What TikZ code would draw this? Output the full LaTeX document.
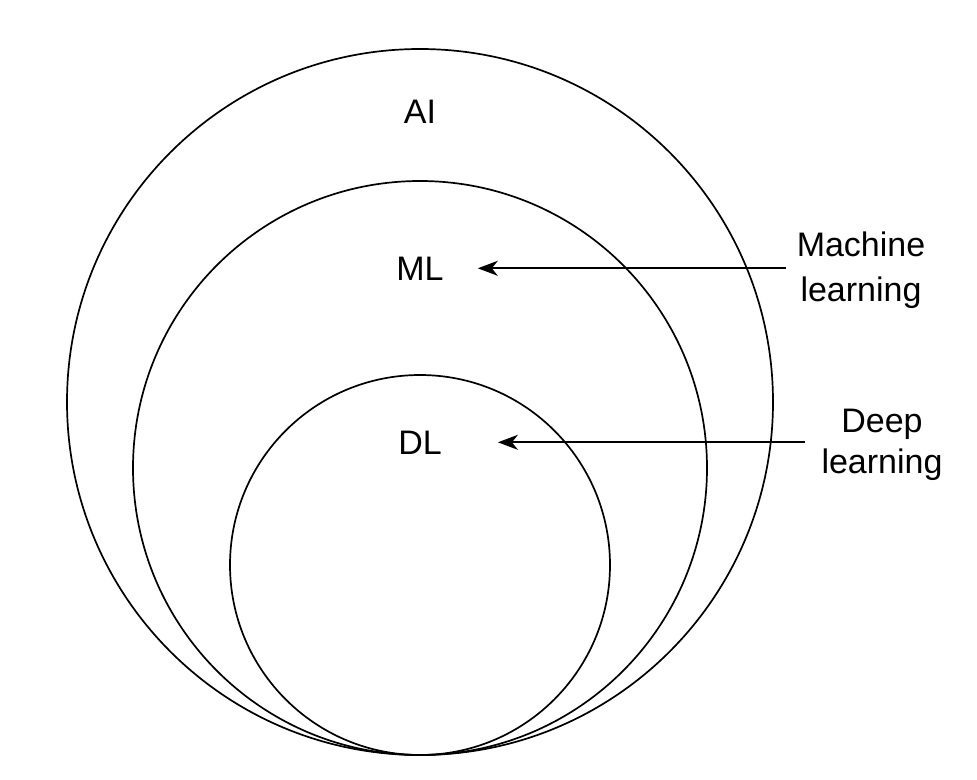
\documentclass[tikz,border=0pt]{standalone}
\usepackage{fontspec}
\setmainfont{Liberation Sans}
\usepackage{tikz}
\usetikzlibrary{positioning}
\usetikzlibrary{arrows.meta}
\tikzset{ring/.style={line width=1.7pt}}
\tikzset{lbl/.style={font=\fontsize{34}{45}\selectfont, inner sep=0pt}}
\tikzset{pointer/.style={line width=1.7pt, -{Stealth[length=20pt,width=15pt,inset=6pt]}}}

\begin{document}
\begin{tikzpicture}[x=1pt,y=-1pt]
\useasboundingbox (0,0) rectangle (977,779);
\draw[ring] (420,402) circle[radius=353pt];
\draw[ring] (420,468) circle[radius=287pt];
\draw[ring] (420,565) circle[radius=190pt];
\node[lbl, anchor=base] (ai) at (420,123) {AI};
\node[lbl, anchor=base] (ml) at (420,280) {ML};
\node[lbl, anchor=base] (dl) at (420,454) {DL};
\node[lbl, align=center] (mltxt) at (861,270) {Machine\\learning};
\node[lbl, align=center, font=\fontsize{34}{41}\selectfont] (dltxt) at (882,445) {Deep\\learning};
\draw[pointer] ([xshift=-11pt]mltxt.west |- ml.center) -- ([xshift=34pt]ml.east);
\draw[pointer] ([xshift=-16pt]dltxt.west |- dl.center) -- ([xshift=56pt]dl.east);
\end{tikzpicture}
\end{document}
